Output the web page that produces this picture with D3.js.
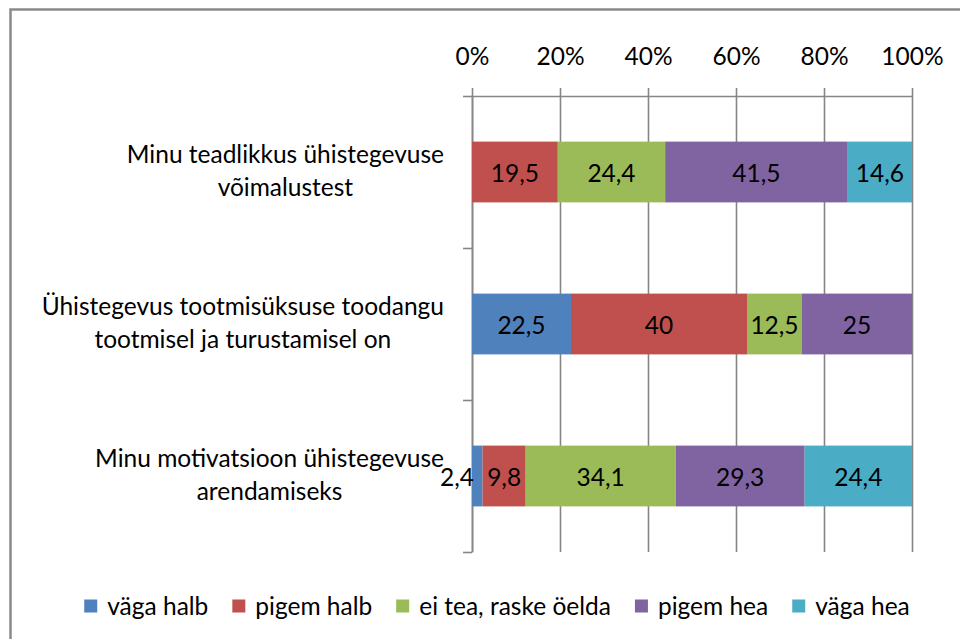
<!DOCTYPE html>
<html>
<head>
<meta charset="utf-8">
<script src="https://cdn.jsdelivr.net/npm/d3@7"></script>
<style>
  html, body { margin: 0; padding: 0; background: #fff; }
  svg text { font-family: Lato, "Noto Sans", sans-serif; fill: #000; }
</style>
</head>
<body>
<div id="chart"></div>
<script>
// DATA
const categories = ["teadlikkus", "tootmine", "motivatsioon"];
const categoryLines = [
    ["Minu teadlikkus ühistegevuse", "võimalustest"],
    ["Ühistegevus tootmisüksuse toodangu", "tootmisel ja turustamisel on"],
    ["Minu motivatsioon ühistegevuse", "arendamiseks"]
];
const seriesNames = ["väga halb", "pigem halb", "ei tea, raske öelda", "pigem hea", "väga hea"];
const vagaHalb = [0, 22.5, 2.4];
const pigemHalb = [19.5, 40, 9.8];
const eiTea = [24.4, 12.5, 34.1];
const pigemHea = [41.5, 25, 29.3];
const vagaHea = [14.6, 0, 24.4];
const tickValues = [0, 20, 40, 60, 80, 100];
const colors = ["#4F81BD", "#C0504D", "#9BBB59", "#8064A2", "#4BACC6"];

const width = 960;
const height = 639;
const fontSize = 24.5;
const gridColor = "#868686";

const seriesValues = [vagaHalb, pigemHalb, eiTea, pigemHea, vagaHea];
const table = categories.map((c, i) => {
    const row = { cat: c };
    seriesNames.forEach((s, j) => row[s] = seriesValues[j][i]);
    return row;
});

const stack = d3.stack().keys(seriesNames)(table);

const x = d3.scaleLinear().domain([0, 100]).range([472, 912]);
const y = d3.scaleBand().domain(categories).range([96, 552])
    .paddingInner(0.6).paddingOuter(0.3);
const yEdges = d3.scaleLinear().domain([0, categories.length]).range([96, 552]);

const svg = d3.select("#chart").append("svg")
    .attr("width", width)
    .attr("height", height);

svg.append("rect").attr("width", width).attr("height", height).attr("fill", "#fff");

// chart frame (runs off the right and bottom edge like the original)
svg.append("rect")
    .attr("x", 10.5).attr("y", 9.5)
    .attr("width", 1000).attr("height", 1000)
    .attr("fill", "none")
    .attr("stroke", "#8a8a8a")
    .attr("stroke-width", 2.5);

// gridlines
const grid = svg.append("g")
    .attr("transform", "translate(0,96)")
    .call(d3.axisTop(x).tickValues(tickValues).tickSize(-(552 - 96)).tickFormat(""));
grid.select(".domain").remove();
grid.selectAll("line").attr("stroke", gridColor).attr("stroke-width", 1.6);

// value axis on top
const xAxis = svg.append("g")
    .attr("transform", "translate(0,96)")
    .call(d3.axisTop(x).tickValues(tickValues).tickSize(8).tickSizeOuter(0)
        .tickPadding(23).tickFormat(d => d + "%"));
xAxis.select(".domain").attr("stroke", gridColor).attr("stroke-width", 1.6);
xAxis.selectAll("line").attr("stroke", gridColor).attr("stroke-width", 1.6);
xAxis.selectAll("text")
    .style("font-size", fontSize + "px")
    .attr("fill", "#000");

// category axis
const yAxis = svg.append("g")
    .attr("transform", "translate(472,0)")
    .call(d3.axisLeft(yEdges).tickValues(d3.range(categories.length + 1))
        .tickSize(9).tickSizeOuter(0).tickFormat(""));
yAxis.select(".domain").attr("stroke", gridColor).attr("stroke-width", 1.6);
yAxis.selectAll("line").attr("stroke", gridColor).attr("stroke-width", 1.6);

// bars
const layers = svg.append("g")
    .selectAll("g")
    .data(stack)
    .join("g")
    .attr("fill", (d, i) => colors[i]);

layers.selectAll("rect")
    .data(d => d.map(v => ({ v, cat: v.data.cat })))
    .join("rect")
    .attr("x", d => x(d.v[0]))
    .attr("y", d => y(d.cat))
    .attr("width", d => x(d.v[1]) - x(d.v[0]))
    .attr("height", y.bandwidth());

// data labels (a label too wide for its segment hangs off to the left)
const labels = svg.append("g")
    .selectAll("text")
    .data(stack.flatMap(s => s.filter(v => v[1] - v[0] > 0).map(v => ({ v, cat: v.data.cat }))))
    .join("text")
    .attr("x", d => (x(d.v[0]) + x(d.v[1])) / 2)
    .attr("y", d => y(d.cat) + y.bandwidth() / 2 + 1)
    .attr("dy", "0.36em")
    .attr("text-anchor", "middle")
    .style("font-size", fontSize + "px")
    .attr("fill", "#000")
    .text(d => String(+(d.v[1] - d.v[0]).toFixed(1)).replace(".", ","));

labels.each(function (d) {
    const w = this.getComputedTextLength();
    if (w > x(d.v[1]) - x(d.v[0])) {
        d3.select(this).attr("text-anchor", "end").attr("x", x(d.v[0]) + 2);
    }
});

// category labels, lines centred, block right-aligned to the axis
const labelRight = 444;
const lineGap = 33;
categories.forEach((c, i) => {
    const g = svg.append("g");
    const lines = categoryLines[i];
    const cy = y(c) + y.bandwidth() / 2;
    const texts = lines.map((line, k) => g.append("text")
        .attr("text-anchor", "middle")
        .attr("y", cy + (k - (lines.length - 1) / 2) * lineGap + 7)
        .style("font-size", fontSize + "px")
        .text(line));
    const maxW = d3.max(texts, t => t.node().getComputedTextLength());
    texts.forEach(t => t.attr("x", labelRight - maxW / 2));
});

// legend
const legend = svg.append("g");
const swatch = 13;
let cursor = 0;
seriesNames.forEach((name, i) => {
    const item = legend.append("g");
    item.append("rect")
        .attr("width", swatch).attr("height", swatch)
        .attr("y", -swatch / 2)
        .attr("fill", colors[i]);
    const t = item.append("text")
        .attr("x", swatch + 10)
        .attr("dy", "0.36em")
        .style("font-size", fontSize + "px")
        .text(name);
    const w = swatch + 10 + t.node().getComputedTextLength();
    item.attr("transform", `translate(${cursor},0)`);
    cursor += w + 24;
});
const legendWidth = cursor - 24;
legend.attr("transform", `translate(${497 - legendWidth / 2},606)`);
</script>
</body>
</html>
